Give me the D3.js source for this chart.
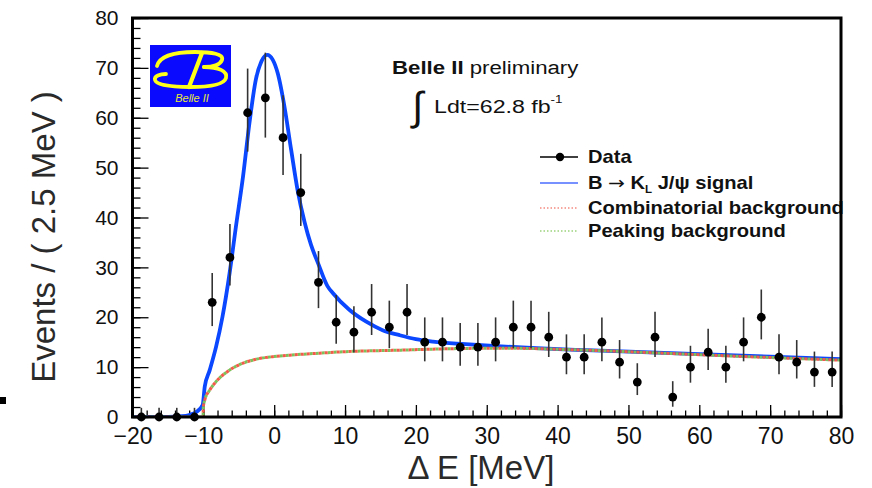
<!DOCTYPE html>
<html>
<head>
<meta charset="utf-8">
<script src="https://cdn.jsdelivr.net/npm/d3@7"></script>
<style>
  body { margin: 0; background: #fff; }
  svg { display: block; }
  text { font-family: "Liberation Sans", Arial, Helvetica, sans-serif; }
</style>
</head>
<body>
<svg id="chart" width="872" height="488"></svg>
<script>
// ΔE distribution, 2.5 MeV bins
const binCenters = [-18.75,-16.25,-13.75,-11.25,-8.75,-6.25,-3.75,-1.25,1.25,3.75,
  6.25,8.75,11.25,13.75,16.25,18.75,21.25,23.75,26.25,28.75,
  31.25,33.75,36.25,38.75,41.25,43.75,46.25,48.75,51.25,53.75,
  56.25,58.75,61.25,63.75,66.25,68.75,71.25,73.75,76.25,78.75];
const counts = [0,0,0,0,23,32,61,64,56,45,
  27,19,17,21,18,21,15,15,14,14,
  15,18,18,16,12,12,15,11,7,16,
  4,10,13,10,15,20,12,11,9,9];
// asymmetric (Poisson) uncertainties
const errLo = [0,0,0,0,4.77,5.63,7.79,7.98,7.47,6.69,
  5.17,4.33,4.09,4.56,4.21,4.56,3.84,3.84,3.71,3.71,
  3.84,4.21,4.21,3.97,3.43,3.43,3.84,3.28,2.60,3.97,
  1.94,3.12,3.57,3.12,3.84,4.44,3.43,3.28,2.96,2.96];
const errHi = [1.84,1.84,1.84,1.84,5.87,6.72,8.86,9.05,8.53,7.76,
  6.27,5.44,5.21,5.66,5.33,5.66,4.97,4.97,4.84,4.84,
  4.97,5.33,5.33,5.09,4.57,4.57,4.97,4.43,3.78,5.09,
  3.18,4.28,4.71,4.28,4.97,5.56,4.57,4.43,4.12,4.12];

// total fit (signal + backgrounds)
const fitX = [-20,-15,-13,-12,-11,-10.1,-9.8,-9.1,-8.2,-7.3,-6.3,-5.4,-4.4,-3.5,-2.6,-1.8,-1.0,-0.2,0.5,1.45,
  2.4,3.3,4.3,5.2,6.2,7.5,8.3,10.6,13,15.3,17.7,20,22.4,27,31.5,37,44,52,60,70,80];
const fitY = [0,0,0.15,0.4,1.0,2.4,6.1,9.4,14.1,20.1,28.8,38.2,48.2,58.9,67.6,71.3,72.6,71.6,68.9,62.2,
  53.5,45.5,39.0,34.5,30.8,26.3,24.8,21.5,19.1,17.4,16.4,15.6,15.1,14.6,14.2,13.8,13.4,13.0,12.6,12.1,11.6];

// background components (combinatorial and peaking, stacked)
const bkgX = [-20,-10.05,-10,-9.8,-9.1,-8.2,-6.3,-4.4,-2.5,-0.2,2.2,6.4,10,17.7,25,32,44,55,65,80];
const bkgY = [0,0,2.0,3.4,5.4,7.1,9.4,10.8,11.6,12.1,12.4,12.8,13.1,13.4,13.7,13.8,13.4,12.8,12.2,11.4];

const xTicks = [-20,-10,0,10,20,30,40,50,60,70,80];
const yTicks = [0,10,20,30,40,50,60,70,80];

const svg = d3.select("#chart");
const x = d3.scaleLinear().domain([-20, 80]).range([132.5, 841]);
const y = d3.scaleLinear().domain([0, 80]).range([417, 18]);

svg.append("defs").append("clipPath").attr("id", "plotClip")
  .append("rect").attr("x", x(-20)).attr("y", y(80))
  .attr("width", x(80) - x(-20)).attr("height", y(0) - y(80));

// stray marker at the left edge
svg.append("rect").attr("x", 0).attr("y", 397).attr("width", 6).attr("height", 7).attr("fill", "#000");

// axes: major and minor ticks pointing inward
function styleAxis(g) {
  g.select(".domain").remove();
  g.selectAll(".tick line").attr("stroke", "#000").attr("stroke-width", 1.3);
}
const xMinor = d3.range(-20, 80.01, 2);
const yMinor = d3.range(0, 80.01, 2);

svg.append("g").attr("transform", `translate(0,${y(0)})`)
  .call(d3.axisBottom(x).tickValues(xMinor).tickSize(-6.5).tickFormat(""))
  .call(styleAxis);
svg.append("g").attr("transform", `translate(0,${y(0)})`)
  .call(d3.axisBottom(x).tickValues(xTicks).tickSizeInner(-12).tickSizeOuter(0).tickPadding(11))
  .call(styleAxis)
  .call(g => g.selectAll("text").attr("font-size", 23).attr("fill", "#111"));

svg.append("g").attr("transform", `translate(${x(-20)},0)`)
  .call(d3.axisLeft(y).tickValues(yMinor).tickSize(-8).tickFormat(""))
  .call(styleAxis);
svg.append("g").attr("transform", `translate(${x(-20)},0)`)
  .call(d3.axisLeft(y).tickValues(yTicks).tickSizeInner(-16).tickSizeOuter(0).tickPadding(14))
  .call(styleAxis)
  .call(g => g.selectAll("text").attr("font-size", 21).attr("fill", "#111"));

// axis titles
svg.append("text")
  .attr("transform", `translate(55,237) rotate(-90)`)
  .attr("text-anchor", "middle").attr("font-size", 33).attr("fill", "#2a2a2a")
  .text("Events / ( 2.5 MeV )");
svg.append("text")
  .attr("x", 481).attr("y", 479).attr("text-anchor", "middle")
  .attr("font-size", 33).attr("fill", "#2a2a2a")
  .text("\u0394 E [MeV]");

// fitted curves
const plot = svg.append("g").attr("clip-path", "url(#plotClip)");
const line = d3.line().x(d => x(d[0])).y(d => y(d[1])).curve(d3.curveMonotoneX);

plot.append("path").datum(fitX.map((v, i) => [v, fitY[i]]))
  .attr("d", line).attr("fill", "none").attr("stroke", "#0a47ff").attr("stroke-width", 3.8);

const bkgPts = bkgX.map((v, i) => [v, bkgY[i]]);
plot.append("path").datum(bkgPts)
  .attr("d", line).attr("fill", "none").attr("stroke", "#7cc25a").attr("stroke-width", 3)
  .attr("stroke-dasharray", "3,3");
plot.append("path").datum(bkgPts)
  .attr("d", line).attr("fill", "none").attr("stroke", "#f25a4a").attr("stroke-width", 3)
  .attr("stroke-dasharray", "3,3").attr("stroke-dashoffset", 3);

// data points with error bars
const pts = svg.append("g");
binCenters.forEach((c, i) => {
  pts.append("line")
    .attr("x1", x(c)).attr("x2", x(c))
    .attr("y1", y(counts[i] - errLo[i])).attr("y2", y(counts[i] + errHi[i]))
    .attr("stroke", "#333").attr("stroke-width", 1.6);
});
pts.selectAll("circle").data(binCenters).join("circle")
  .attr("cx", d => x(d)).attr("cy", (d, i) => y(counts[i]))
  .attr("r", 4.4).attr("fill", "#000");

// experiment logo
const logo = svg.append("g");
logo.append("rect").attr("x", 150).attr("y", 45).attr("width", 81).attr("height", 62).attr("fill", "#0a0aff");
const yel = "#ffff1a";
logo.append("path")
  .attr("d", "M157,66 C160,55 178,52 195,52 C212,52 224,54 222,60 C220,65 212,67 204,67")
  .attr("fill", "none").attr("stroke", yel).attr("stroke-width", 3.8).attr("stroke-linecap", "round");
logo.append("path")
  .attr("d", "M204,67 C218,67 228,71 226,78 C224,85 208,87 190,87 C172,87 156,85 155,80 C154,76 160,74 166,74")
  .attr("fill", "none").attr("stroke", yel).attr("stroke-width", 3.8).attr("stroke-linecap", "round");
logo.append("path")
  .attr("d", "M202,53 L189,87")
  .attr("fill", "none").attr("stroke", yel).attr("stroke-width", 4.2).attr("stroke-linecap", "round");
logo.append("text").attr("x", 192).attr("y", 102).attr("text-anchor", "middle")
  .attr("font-size", 11).attr("font-style", "italic").attr("fill", "#e8e83a")
  .text("Belle II");

// text helper: horizontally widened labels
function wide(x0, y0, sx, size) {
  return svg.append("text")
    .attr("transform", `translate(${x0},${y0}) scale(${sx},1)`)
    .attr("font-size", size).attr("fill", "#111");
}

// experiment label and luminosity
const lab = wide(392, 74, 1.17, 19);
lab.append("tspan").attr("font-weight", "bold").text("Belle II");
lab.append("tspan").text(" preliminary");
svg.append("text").attr("x", 412).attr("y", 120).attr("font-size", 40).attr("fill", "#111")
  .attr("font-family", "DejaVu Sans").text("\u222B");
const lum = wide(434, 113, 1.22, 19);
lum.append("tspan").text("Ldt=62.8 fb");
lum.append("tspan").attr("dy", -10).attr("font-size", 11).text("-1");

// legend
const legY = [157, 183, 208, 231];
const lg = svg.append("g");
lg.append("line").attr("x1", 540).attr("x2", 578).attr("y1", legY[0]).attr("y2", legY[0])
  .attr("stroke", "#000").attr("stroke-width", 1.3);
lg.append("circle").attr("cx", 560).attr("cy", legY[0]).attr("r", 4.2).attr("fill", "#000");
lg.append("line").attr("x1", 540).attr("x2", 578).attr("y1", legY[1]).attr("y2", legY[1])
  .attr("stroke", "#4a6cff").attr("stroke-width", 1.4);
lg.append("line").attr("x1", 540).attr("x2", 578).attr("y1", legY[2]).attr("y2", legY[2])
  .attr("stroke", "#f58a80").attr("stroke-width", 1.4).attr("stroke-dasharray", "1.5,2");
lg.append("line").attr("x1", 540).attr("x2", 578).attr("y1", legY[3]).attr("y2", legY[3])
  .attr("stroke", "#9ad27a").attr("stroke-width", 1.4).attr("stroke-dasharray", "1.5,2");

const lt = (i) => wide(588, legY[i] + 6, 1.15, 17.5).attr("font-weight", "bold");
lt(0).text("Data");
const sig = lt(1);
sig.append("tspan").text("B ");
sig.append("tspan").attr("font-weight", "normal").attr("font-family", "DejaVu Sans").text("\u2192");
sig.append("tspan").text(" K");
sig.append("tspan").attr("font-size", 10).attr("dy", 4).text("L");
sig.append("tspan").attr("dy", -4).text(" J/\u03C8 signal");
lt(2).text("Combinatorial background");
lt(3).text("Peaking background");

// frame
svg.append("rect").attr("x", x(-20)).attr("y", y(80))
  .attr("width", x(80) - x(-20)).attr("height", y(0) - y(80))
  .attr("fill", "none").attr("stroke", "#000").attr("stroke-width", 3);
</script>
</body>
</html>
